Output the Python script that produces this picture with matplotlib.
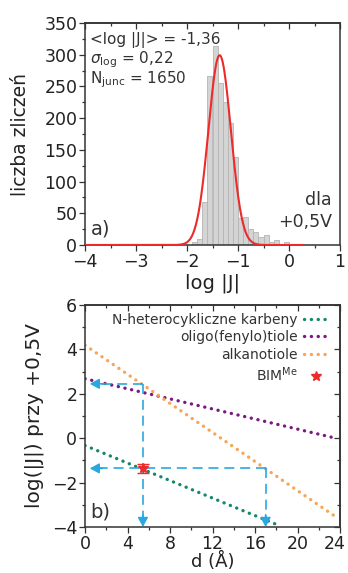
import numpy as np
import matplotlib
matplotlib.use("Agg")
import matplotlib.pyplot as plt
from matplotlib.ticker import MultipleLocator, NullFormatter
from matplotlib.transforms import ScaledTranslation

plt.rcParams['font.family'] = ['DejaVu Sans']
plt.rcParams['mathtext.fontset'] = 'dejavusans'

# ---- panel a): histogram of log|J| at +0.5 V ----
bin_edges = np.round(np.arange(-1.9, 0.0001, 0.1), 2)
bin_counts = [4, 9, 68, 266, 313, 255, 226, 192, 139, 42, 44, 26, 20, 12, 16, 5, 8, 2, 5]
mean_logJ = -1.36
sigma_log = 0.22
n_junc = 1650

# ---- panel b): log|J| vs molecular length ----
nhc_d = [0.0, 18.3]
nhc_logJ = [-0.33, -3.94]
opt_d = [0.0, 23.6]
opt_logJ = [2.68, 0.0]
alk_d = [0.0, 23.6]
alk_logJ = [4.19, -3.54]
bim_d = 5.45
bim_logJ = -1.36
bim_err = 0.22
alk_equiv_d = 17.0          # alkanethiol length giving the same log|J|
bim_alk_logJ = 2.45         # alkanethiol log|J| at the BIM length
guide_tip_d = 0.45

SPINE = '#333333'
TEAL = '#17876c'
PURPLE = '#7a1a80'
ORANGE = '#f7a55a'
BLUE = '#2ba7e0'
RED = '#ee2a2a'

fig = plt.figure(figsize=(3.48, 5.73), dpi=100)
W, H = 348, 573
ax1 = fig.add_axes([85 / W, 1 - 245 / H, 255 / W, 222 / H])
ax2 = fig.add_axes([85 / W, 1 - 527 / H, 255 / W, 222 / H])

TICK_FS = 12.5


def style_axes(ax, xmaj, xmin, ymaj, ymin, right_ticks):
    for s in ax.spines.values():
        s.set_color(SPINE)
        s.set_linewidth(1.1)
    ax.xaxis.set_major_locator(MultipleLocator(xmaj))
    ax.xaxis.set_minor_locator(MultipleLocator(xmin))
    ax.yaxis.set_major_locator(MultipleLocator(ymaj))
    ax.yaxis.set_minor_locator(MultipleLocator(ymin))
    ax.tick_params(which='both', direction='out', colors=SPINE, width=0.9,
                   labelsize=TICK_FS, labelcolor='#222222')
    ax.tick_params(which='major', length=4)
    ax.tick_params(which='minor', length=2.5)
    ax.tick_params(axis='x', pad=2)
    ax.tick_params(axis='y', pad=1.5)
    # mirrored inward ticks
    top = ax.secondary_xaxis('top')
    top.xaxis.set_major_locator(MultipleLocator(xmaj))
    top.xaxis.set_minor_locator(MultipleLocator(xmin))
    top.xaxis.set_major_formatter(NullFormatter())
    top.tick_params(which='both', direction='in', colors=SPINE, width=0.9)
    top.tick_params(which='major', length=4)
    top.tick_params(which='minor', length=2.5)
    top.spines['top'].set_linewidth(1.1)
    top.spines['top'].set_color(SPINE)
    if right_ticks:
        rt = ax.secondary_yaxis('right')
        rt.yaxis.set_major_locator(MultipleLocator(ymaj))
        rt.yaxis.set_minor_locator(MultipleLocator(ymin))
        rt.yaxis.set_major_formatter(NullFormatter())
        rt.tick_params(which='both', direction='in', colors=SPINE, width=0.9)
        rt.tick_params(which='major', length=4)
        rt.tick_params(which='minor', length=2.5)
        rt.spines['right'].set_linewidth(1.1)
        rt.spines['right'].set_color(SPINE)


# ---------------- panel a ----------------
ax1.bar(bin_edges[:-1], bin_counts, width=0.1, align='edge',
        color='#d4d4d4', edgecolor='#b4b4b4', linewidth=0.6, zorder=2)
bin_w = 0.1
amp = n_junc * bin_w / (sigma_log * np.sqrt(2 * np.pi))
xg = np.linspace(-4, 0.25, 500)
ax1.plot(xg, amp * np.exp(-0.5 * ((xg - mean_logJ) / sigma_log) ** 2),
         color=RED, lw=1.5, zorder=3)
ax1.set_xlim(-4, 1)
ax1.set_ylim(0, 350)
style_axes(ax1, 1, 0.5, 50, 25, right_ticks=False)
ax1.set_xlabel('log |J|', fontsize=14, color='#222222')
ax1.set_ylabel('liczba zliczeń', fontsize=13.5, color='#222222')
ax1.xaxis.set_label_coords(0.5, -0.13)
ax1.yaxis.set_label_coords(-0.215, 0.5)

stat_fs = 11
ax1.text(0.02, 0.923, '<log |J|> = ' + f'{mean_logJ:.2f}'.replace('.', ','),
         transform=ax1.transAxes, fontsize=stat_fs, va='center', color='#333333')
ax1.text(0.02, 0.833, r'$\sigma_{\mathrm{log}}$ = ' + f'{sigma_log:.2f}'.replace('.', ','),
         transform=ax1.transAxes, fontsize=stat_fs, va='center', color='#333333')
ax1.text(0.02, 0.743, r'N$_{\mathrm{junc}}$ = ' + f'{n_junc}',
         transform=ax1.transAxes, fontsize=stat_fs, va='center', color='#333333')
ax1.text(0.969, 0.203, 'dla', transform=ax1.transAxes, fontsize=12.5,
         ha='right', va='center', color='#333333')
ax1.text(0.969, 0.104, '+0,5V', transform=ax1.transAxes, fontsize=12.5,
         ha='right', va='center', color='#333333')
ax1.text(0.024, 0.072, 'a)', transform=ax1.transAxes, fontsize=14,
         ha='left', va='center', color='#333333')

# ---------------- panel b ----------------
dot = dict(linestyle=(0, (0.05, 2.0)), lw=2.4, dash_capstyle='round')
ax2.plot(nhc_d, nhc_logJ, color=TEAL, label='N-heterocykliczne karbeny', **dot)
ax2.plot(opt_d, opt_logJ, color=PURPLE, label='oligo(fenylo)tiole', **dot)
ax2.plot(alk_d, alk_logJ, color=ORANGE, label='alkanotiole', **dot)

# guide lines with arrowheads
dash = dict(color=BLUE, lw=1.2, linestyle=(0, (6, 3.5)), zorder=4)
ax2.plot([bim_d, guide_tip_d + 0.6], [bim_alk_logJ, bim_alk_logJ], **dash)
ax2.plot([bim_d, bim_d], [bim_alk_logJ, -4 + 0.35], **dash)
ax2.plot([alk_equiv_d, guide_tip_d + 0.6], [bim_logJ, bim_logJ], **dash)
ax2.plot([alk_equiv_d, alk_equiv_d], [bim_logJ, -4 + 0.35], **dash)
head = dict(arrowstyle='-|>,head_length=0.55,head_width=0.3', color=BLUE,
            lw=1.2, shrinkA=0, shrinkB=0)
for y in (bim_alk_logJ, bim_logJ):
    ax2.annotate('', xy=(guide_tip_d, y), xytext=(guide_tip_d + 1.2, y),
                 arrowprops=head, zorder=5)
for x in (bim_d, alk_equiv_d):
    ax2.annotate('', xy=(x, -4), xytext=(x, -3.45), arrowprops=head, zorder=5)

ax2.errorbar([bim_d], [bim_logJ], yerr=[bim_err], fmt='none', ecolor=RED,
             elinewidth=1.0, capsize=4.3, capthick=1.0, zorder=6)
ax2.plot([bim_d], [bim_logJ], marker='*', ms=7, color=RED, ls='none',
         label='BIM$^{\\mathrm{Me}}$', zorder=7)

ax2.set_xlim(0, 24)
ax2.set_ylim(-4, 6)
style_axes(ax2, 4, 2, 2, 1, right_ticks=True)
ax2.set_xlabel('d (Å)', fontsize=13, color='#222222')
ax2.set_ylabel('log(|J|) przy +0,5V', fontsize=14.5, color='#222222')
ax2.xaxis.set_label_coords(0.5, -0.112)
ax2.yaxis.set_label_coords(-0.16, 0.5)
ax2.text(0.02, 0.068, 'b)', transform=ax2.transAxes, fontsize=14,
         ha='left', va='center', color='#333333')

leg = ax2.legend(loc='upper right', bbox_to_anchor=(0.955, 0.965),
                 frameon=False, markerfirst=False, fontsize=10,
                 handlelength=1.8, handletextpad=0.4, labelspacing=0.25,
                 borderaxespad=0, borderpad=0)
for t in leg.get_texts():
    t.set_color('#333333')
    t.set_ha('right')
leg._legend_box.align = 'right'

# keep the x tick label at the right edge inside the canvas
fig.canvas.draw()
x_right = ax2.get_xlim()[1]
for tick in ax2.xaxis.get_major_ticks():
    if abs(tick.get_loc() - x_right) < 1e-9:
        lab = tick.label1
        lab.set_horizontalalignment('right')
        lab.set_transform(lab.get_transform()
                          + ScaledTranslation(6 / 100, 0, fig.dpi_scale_trans))

fig.savefig('out.png', dpi=100)
